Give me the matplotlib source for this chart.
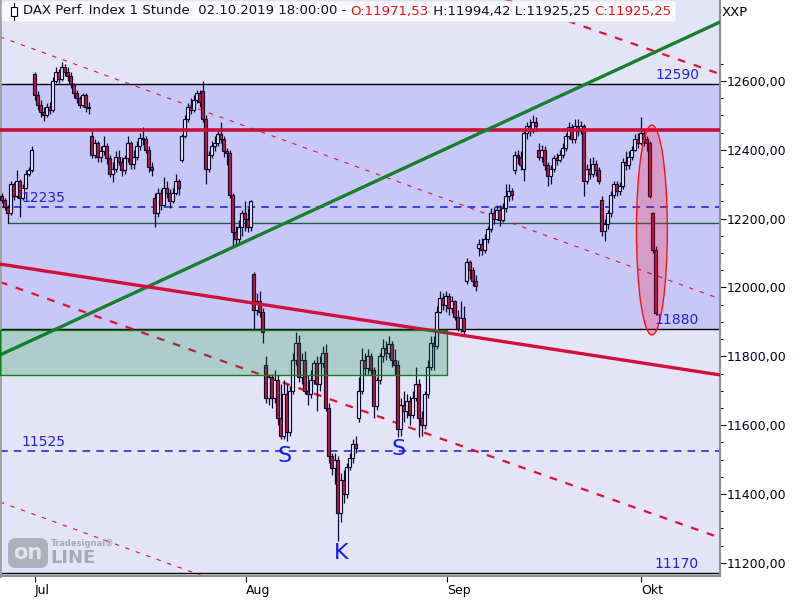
import matplotlib
matplotlib.use("Agg")
import matplotlib.pyplot as plt
from matplotlib.patches import Rectangle, Ellipse, FancyBboxPatch
from matplotlib.ticker import FixedLocator, FuncFormatter

# ---------------- data (bar index = 1/3 trading day) ----------------
opens = [12265,12255,12235,12215,12300,12265,12310,12260,12290,12330,12340,
         12620,12560,12530,12510,12500,12525,12515,12600,12625,12605,12640,12625,12615,12590,12565,12550,12530,12560,12525,
         12440,12385,12420,12380,12395,12410,12375,12330,12345,12380,12365,12340,12375,12420,12360,12380,12410,12435,12430,12400,12350,
         12260,12215,12275,12240,12290,12275,12250,12275,12310,
         12370,12440,12490,12525,12515,12545,12565,12570,12490,12345,12385,12410,12420,12445,12430,12395,12390,12270,12160,12140,12175,
         12215,12200,12175,12040,11935,11960,11930,
         11775,11680,11740,11680,11730,11620,11570,11690,11580,11700,11790,11840,11740,11790,11700,11690,11730,11780,11720,11780,11810,
         11650,11510,11475,11500,11345,11440,11400,11480,11505,11545,
         11620,11700,11790,11765,11800,11760,11655,11730,11800,11825,11810,11835,11790,11775,11590,11660,11640,11670,11630,11680,11720,
         11620,11600,11690,11770,11840,11830,11930,11970,11950,11975,11940,11960,11915,11880,11910,
         12020,12075,12050,12020,12115,12125,12110,12140,12170,12215,12200,12225,12195,12230,12265,12280,
         12340,12385,12380,12345,12450,12470,12455,12480,
         12400,12380,12400,12355,12325,12345,12375,12370,12385,12405,12440,12465,12430,12470,12455,12470,
         12310,12345,12330,12360,12340,12255,12165,12185,12215,12270,12300,12280,12295,12365,12355,12380,12400,12430,
         12420,12450,12430,12420,12215,12110]
highs = [12275,12260,12240,12310,12305,12340,12315,12300,12340,12350,12410,
         12625,12570,12545,12525,12535,12540,12610,12640,12635,12655,12650,12640,12625,12595,12575,12555,12565,12565,12540,
         12455,12430,12425,12410,12440,12420,12385,12365,12395,12400,12380,12385,12440,12425,12400,12425,12450,12465,12440,12410,12365,
         12275,12290,12285,12320,12310,12285,12290,12330,12315,
         12445,12500,12535,12550,12560,12575,12575,12600,12500,12395,12425,12440,12460,12480,12440,12405,12400,12275,12180,12195,12225,
         12250,12230,12255,12045,11985,11990,11940,
         11800,11750,11750,11760,11745,11720,11730,11720,11715,11810,11870,11862,11810,11815,11745,11760,11790,11800,11800,11830,11835,
         11665,11520,11520,11510,11460,11470,11490,11520,11560,11570,
         11740,11825,11810,11820,11810,11770,11740,11810,11850,11845,11860,11845,11820,11790,11680,11700,11690,11685,11700,11770,11735,
         11640,11700,11790,11860,11860,11945,11990,11985,11990,11985,11975,11965,11935,11960,11945,
         12085,12080,12060,12035,12140,12145,12155,12180,12230,12235,12240,12240,12245,12300,12300,12290,
         12395,12400,12395,12460,12480,12490,12500,12495,
         12420,12415,12410,12365,12355,12385,12390,12400,12420,12450,12480,12475,12490,12490,12485,12475,
         12360,12375,12380,12370,12350,12265,12200,12225,12280,12310,12310,12305,12375,12395,12395,12410,12445,12450,
         12495,12460,12440,12425,12220,12120]
lows = [12245,12225,12188,12210,12255,12260,12205,12255,12285,12325,12335,
        12545,12515,12495,12485,12495,12505,12510,12595,12595,12600,12615,12600,12580,12550,12535,12520,12525,12510,12505,
        12375,12375,12365,12365,12385,12360,12320,12305,12335,12355,12325,12330,12365,12345,12345,12370,12400,12415,12390,12335,12325,
        12175,12205,12225,12235,12260,12230,12245,12270,12270,
        12365,12435,12480,12505,12510,12535,12525,12480,12300,12335,12375,12395,12410,12420,12380,12355,12260,12115,12120,12130,12150,
        12165,12160,12165,11880,11920,11915,11840,
        11665,11660,11650,11665,11600,11560,11560,11555,11570,11690,11775,11725,11720,11690,11660,11680,11720,11640,11700,11770,11640,
        11490,11455,11430,11265,11320,11375,11390,11470,11490,11520,
        11610,11690,11745,11750,11745,11620,11645,11720,11785,11790,11795,11770,11745,11565,11570,11610,11620,11600,11620,11670,11565,
        11570,11590,11680,11760,11760,11820,11925,11935,11930,11920,11925,11905,11875,11870,11865,
        12010,12025,12005,11990,12090,12095,12100,12130,12160,12185,12195,12180,12190,12220,12250,12255,
        12330,12360,12340,12310,12430,12440,12450,12455,
        12370,12365,12340,12295,12300,12335,12355,12365,12375,12395,12430,12420,12420,12440,12445,12265,
        12300,12315,12320,12325,12300,12150,12135,12170,12205,12260,12265,12270,12285,12340,12345,12370,12395,12405,
        12415,12410,12395,12260,12100,11920]
closes = [12255,12235,12215,12300,12265,12310,12260,12290,12330,12340,12400,
          12560,12530,12510,12500,12525,12515,12600,12625,12605,12640,12625,12615,12590,12565,12550,12530,12560,12525,12520,
          12385,12420,12380,12395,12410,12375,12330,12345,12380,12365,12340,12375,12420,12360,12380,12410,12435,12430,12400,12350,12340,
          12215,12275,12240,12290,12275,12250,12275,12310,12290,
          12440,12490,12525,12515,12545,12565,12540,12490,12345,12385,12410,12420,12445,12430,12395,12390,12270,12160,12140,12175,12215,
          12200,12175,12250,11935,11960,11930,11870,
          11680,11740,11680,11730,11620,11570,11690,11580,11700,11790,11840,11740,11790,11700,11690,11730,11780,11720,11780,11810,11650,
          11510,11475,11500,11345,11440,11400,11480,11505,11545,11535,
          11700,11790,11765,11800,11760,11655,11730,11800,11825,11810,11835,11790,11775,11590,11660,11640,11670,11630,11680,11720,11620,
          11600,11690,11770,11840,11830,11930,11970,11950,11975,11940,11960,11915,11880,11910,11875,
          12075,12050,12020,12005,12125,12110,12140,12170,12215,12200,12225,12195,12230,12265,12280,12270,
          12385,12380,12355,12450,12470,12455,12480,12470,
          12380,12400,12355,12325,12345,12375,12370,12385,12405,12440,12465,12430,12470,12455,12470,12310,
          12345,12330,12360,12340,12310,12165,12185,12215,12270,12300,12280,12295,12365,12355,12380,12400,12430,12420,
          12450,12430,12420,12265,12110,11925]

month_tick_pos = [11.2, 81.5, 148.5, 213.2]
month_labels = ["Jul", "Aug", "Sep", "Okt"]

band_low, band_high = 11880, 12590
solid_levels = [12590, 11880, 11170]
dashed_levels = [12235, 11525]
level_labels = ["12590", "12235", "11880", "11525", "11170"]
level_label_side = ["right", "left", "right", "left", "right"]
resistance_level = 12458
support_level = 12188
support_start_bar = 2
zone_low, zone_high, zone_end_bar = 11745, 11876, 148.5

line_x = [-0.5, 239.5]
green_trend = [11804, 12771]
red_trend = [12068, 11746]
channel_b = [13349, 12620]
channel_a = [12728, 11967]
channel_c = [12016, 11273]
channel_d = [11377, 10613]

pattern_labels = ["S", "S", "K"]
pattern_x = [94.2, 132.5, 113.2]
pattern_y = [11511, 11531, 11229]

ellipse_center = (216.8, 12167)
ellipse_size = (10.3, 610)

y_min, y_max = 11162, 12835

# ---------------- figure ----------------
fig = plt.figure(figsize=(8, 6), dpi=100)
fig.patch.set_facecolor("white")
ax = fig.add_axes([0.0, 24 / 600, 720 / 800, 576 / 600])
ax.set_facecolor("#e4e4f8")
ax.set_xlim(-0.5, 239.5)
ax.set_ylim(y_min, y_max)

ax.axhspan(band_low, band_high, color="#c8c8f8", zorder=0, lw=0)

for lv in solid_levels:
    ax.axhline(lv, color="black", lw=1.0, zorder=2)
for lv in dashed_levels:
    ax.axhline(lv, color="#1a1ad8", lw=1.1, ls=(0, (5, 4)), zorder=2)
ax.plot([support_start_bar, 239.5], [support_level, support_level], color="#1f5f3f", lw=1.0, zorder=2)

# channel lines
ax.plot(line_x, channel_b, color="#e01030", lw=1.6, ls=(0, (3.5, 4)), zorder=2)
ax.plot(line_x, channel_a, color="#e01030", lw=0.8, ls=(0, (4, 6)), zorder=2)
ax.plot(line_x, channel_c, color="#e01030", lw=1.6, ls=(0, (3.5, 4)), zorder=2)
ax.plot(line_x, channel_d, color="#e01030", lw=0.8, ls=(0, (4, 6)), zorder=2)

# candles
edge = "#0a0a30"
ax.vlines(range(len(closes)), lows, highs, color=edge, lw=0.9, zorder=3)
for i, (o, c) in enumerate(zip(opens, closes)):
    lo, hi = min(o, c), max(o, c)
    h = max(hi - lo, 1.5)
    fc = "#d4103c" if c < o else "#eeeefc"
    ax.add_patch(Rectangle((i - 0.43, lo), 0.86, h, facecolor=fc, edgecolor=edge, lw=0.85, zorder=3.5))

# trend lines
ax.axhline(resistance_level, color="#c8103a", lw=2.6, zorder=4)
ax.plot(line_x, green_trend, color="#16802a", lw=2.4, zorder=4)
ax.plot(line_x, red_trend, color="#d0103a", lw=2.4, zorder=4)

# zone
ax.add_patch(Rectangle((-0.5, zone_low), zone_end_bar + 0.5, zone_high - zone_low,
                       facecolor=(0.0, 0.5, 0.25, 0.23), edgecolor="#108010", lw=1.0, zorder=5))
# ellipse
ax.add_patch(Ellipse(ellipse_center, ellipse_size[0], ellipse_size[1],
                     facecolor=(1.0, 0.0, 0.1, 0.22), edgecolor="#ff1010", lw=1.0, zorder=5))

# level labels
for lab, side in zip(level_labels, level_label_side):
    v = float(lab)
    if side == "right":
        ax.text(232.5, v + 6, lab, color="#2222dd", fontsize=10, ha="right", va="bottom", zorder=6)
    else:
        ax.text(6.8, v + 6, lab, color="#2222dd", fontsize=10, ha="left", va="bottom", zorder=6)

for t, x, y in zip(pattern_labels, pattern_x, pattern_y):
    ax.text(x, y, t, color="#1a1aee", fontsize=16, ha="center", va="center", zorder=6)

# axes styling
ax.spines["top"].set_visible(False)
ax.spines["left"].set_color("#a0a0a0")
ax.spines["left"].set_linewidth(2)
ax.spines["right"].set_color("#909090")
ax.spines["right"].set_linewidth(1.5)
ax.spines["bottom"].set_color("#909090")
ax.spines["bottom"].set_linewidth(1.5)

ax.yaxis.tick_right()
ax.yaxis.set_major_locator(FixedLocator(list(range(11200, 12601, 200))))
ax.yaxis.set_minor_locator(FixedLocator([v for v in range(11200, 12651, 50) if v % 200 != 0]))
ax.yaxis.set_major_formatter(FuncFormatter(lambda v, p: f"{int(v)},00"))
ax.tick_params(axis="y", which="major", length=4, width=0.8, colors="#000000", labelsize=9, pad=1, labelcolor="#000018")
ax.tick_params(axis="y", which="minor", length=2, width=0.8, colors="#000000")

ax.set_xticks(month_tick_pos)
ax.set_xticklabels(month_labels)
ax.tick_params(axis="x", length=4, width=0.8, colors="#000000", labelsize=9, pad=2)
for lbl in ax.get_xticklabels():
    lbl.set_horizontalalignment("left")

# logo
ax.add_patch(FancyBboxPatch((8 / 720, (576 - 568) / 576), 40 / 720, 30 / 576,
                            boxstyle="round,pad=0,rounding_size=0.012", transform=ax.transAxes,
                            facecolor="#b0b0bc", edgecolor="none", zorder=6))
ax.text(28 / 720, (576 - 553) / 576, "on", transform=ax.transAxes, color="#e4e4f0",
        fontsize=15, fontweight="bold", ha="center", va="center", zorder=7)
ax.text(50 / 720, (576 - 558) / 576, "LINE", transform=ax.transAxes, color="#a8a8b8",
        fontsize=13, fontweight="bold", ha="left", va="center", zorder=7)
ax.text(51 / 720, (576 - 544) / 576, "Tradesignal\u00ae", transform=ax.transAxes, color="#a8a8b8",
        fontsize=6, fontweight="bold", ha="left", va="center", zorder=7)

# header box
fig.patches.append(FancyBboxPatch((2 / 800, (600 - 22) / 600), 674 / 800, 21 / 600,
                                  boxstyle="round,pad=0,rounding_size=0.004", transform=fig.transFigure,
                                  facecolor="#f8f8fd", edgecolor="#e0e0ee", lw=0.5, zorder=10))
fig.patches.append(Rectangle((10.5 / 800, (600 - 16) / 600), 6 / 800, 9 / 600, transform=fig.transFigure,
                             facecolor="white", edgecolor="black", lw=0.8, zorder=11))
fig.lines.append(plt.Line2D([13.5 / 800, 13.5 / 800], [(600 - 20) / 600, (600 - 3) / 600],
                            transform=fig.transFigure, color="black", lw=0.8, zorder=10.5))

segments = [("DAX Perf. Index 1 Stunde  02.10.2019 18:00:00 - ", "#101020"),
            ("O:11971,53", "#ee1111"),
            (" H:11994,42 L:11925,25 ", "#101020"),
            ("C:11925,25", "#ee1111")]
fig.canvas.draw()
renderer = fig.canvas.get_renderer()
xpix = 23
for txt, col in segments:
    t = fig.text(xpix / 800, (600 - 11) / 600, txt, color=col, fontsize=9.5, ha="left", va="center", zorder=12)
    bb = t.get_window_extent(renderer=renderer)
    xpix += bb.width

fig.text(722 / 800, (600 - 12) / 600, "XXP", color="#000010", fontsize=9.5, ha="left", va="center")

fig.savefig("out.png", dpi=100)
